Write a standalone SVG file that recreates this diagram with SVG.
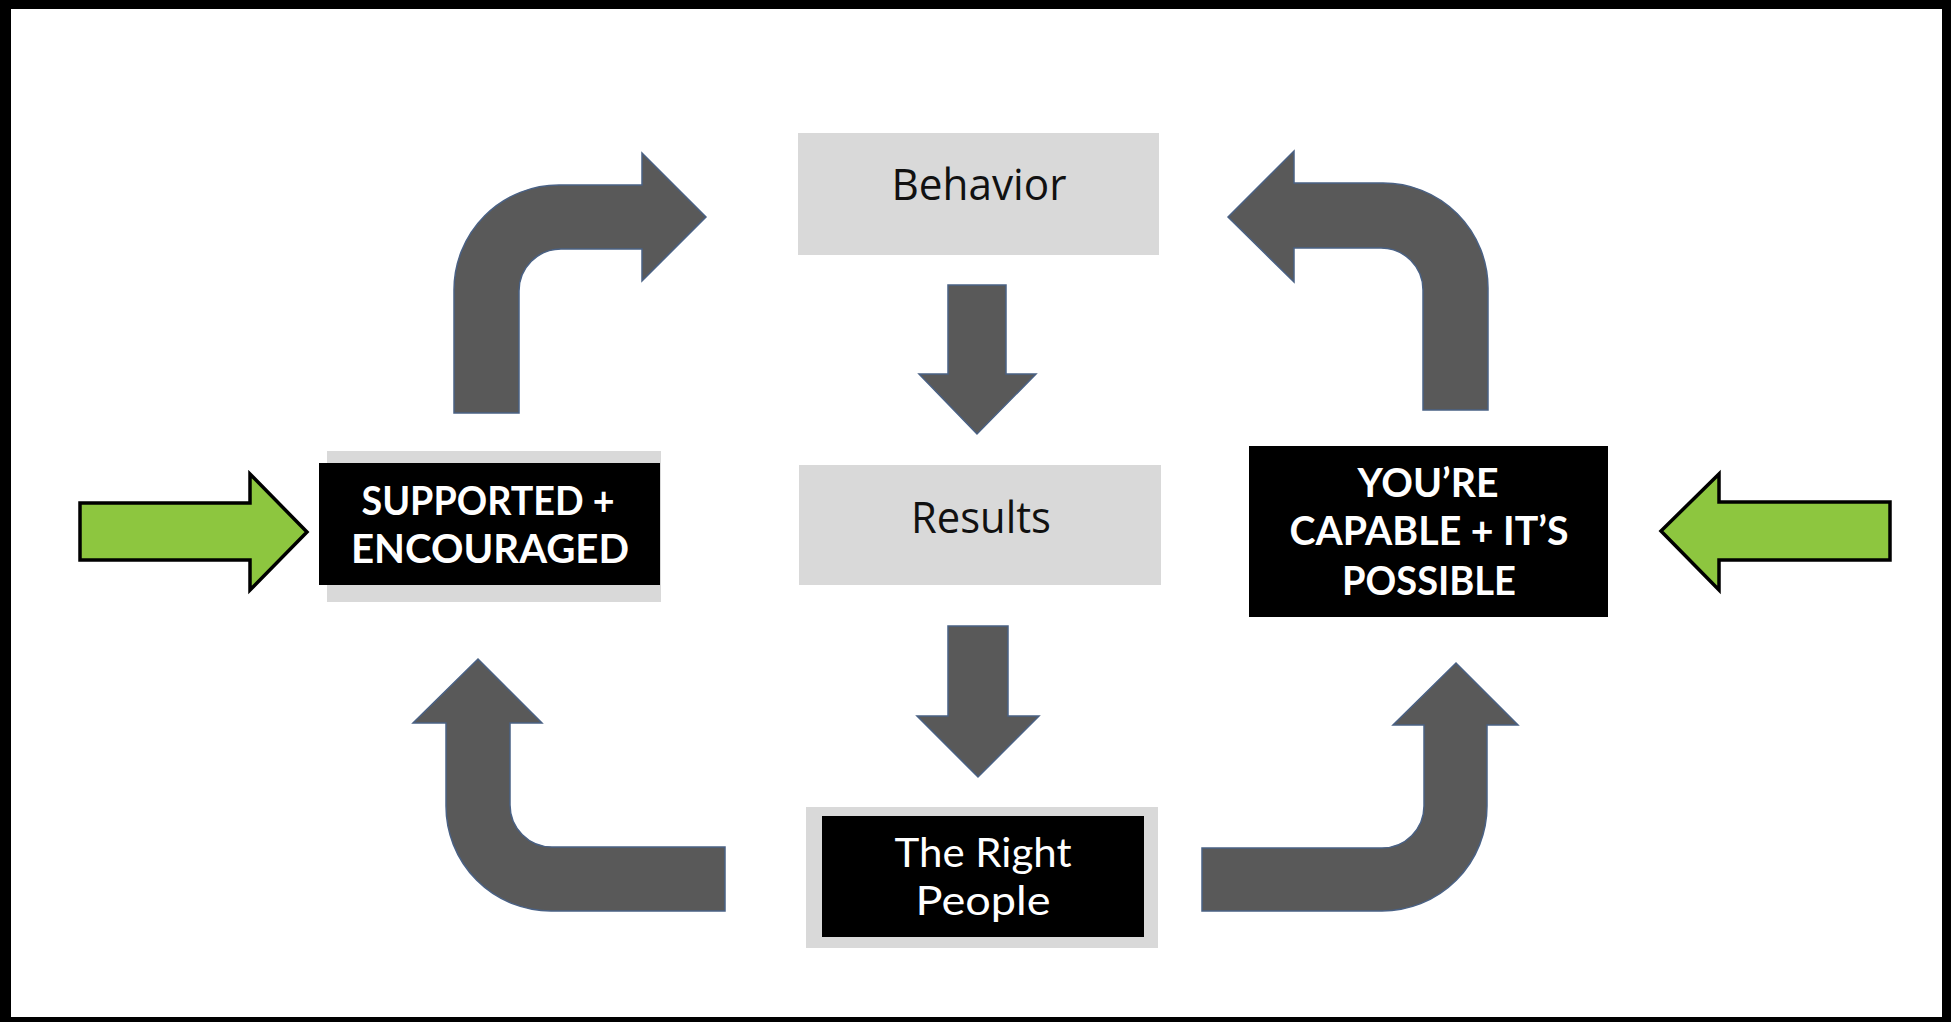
<svg xmlns="http://www.w3.org/2000/svg" width="1951" height="1022" viewBox="0 0 1951 1022">
<style>
.bend{fill:#595959;stroke:#4a6184;stroke-width:1.5;stroke-linejoin:miter}
.green{fill:#8dc63f;stroke:#000;stroke-width:3.5;stroke-linejoin:miter}
.lbox{fill:#d9d9d9}
.blk{fill:#000}
.cal{font-family:"Open Sans","Noto Sans","Liberation Sans",sans-serif;font-size:44px;fill:#111;text-anchor:middle}
.gb{font-family:"Lato","Noto Sans","Liberation Sans",sans-serif;font-weight:bold;font-size:40px;fill:#fff;text-anchor:middle}
.gl{font-family:"Lato","Noto Sans","Liberation Sans",sans-serif;font-weight:normal;font-size:40px;fill:#fff;text-anchor:middle}
</style>
<rect x="0" y="0" width="1951" height="1022" fill="#fff"/>
<g id="frame" fill="#000">
<rect x="0" y="0" width="1951" height="9"/>
<rect x="0" y="0" width="11" height="1022"/>
<rect x="1942" y="0" width="9" height="1022"/>
<rect x="0" y="1017" width="1951" height="5"/>
</g>
<g id="connectors">
<path class="bend" d="M454,413 L454,290 A105,105 0 0 1 559,185 L642,185 L642,153 L706,217 L642,281 L642,249 L561,249 A42,42 0 0 0 519,291 L519,413 Z"/>
<path class="bend" d="M1228,217 L1294,151 L1294,183 L1383,183 A105,105 0 0 1 1488,288 L1488,410 L1423,410 L1423,290 A42,42 0 0 0 1381,248 L1294,248 L1294,282 Z"/>
<path class="bend" d="M478,659 L542,723 L510,723 L510,805 A42,42 0 0 0 552,847 L725,847 L725,911 L551,911 A105,105 0 0 1 446,806 L446,723 L413,723 Z"/>
<path class="bend" d="M1202,848 L1382,848 A42,42 0 0 0 1424,806 L1424,725 L1393,725 L1456,663 L1518,725 L1487,725 L1487,806 A105,105 0 0 1 1382,911 L1202,911 Z"/>
<path class="bend" d="M948,285 L1006,285 L1006,374 L1036,374 L977,434 L919,374 L948,374 Z"/>
<path class="bend" d="M948,626 L1008,626 L1008,716 L1039,716 L978,777 L917,716 L948,716 Z"/>
<path class="green" d="M80,503 L250,503 L250,474 L307,532 L250,590 L250,560 L80,560 Z"/>
<path class="green" d="M1890,502 L1719,502 L1719,474 L1661,531 L1719,590 L1719,560 L1890,560 Z"/>
</g>
<g id="behavior">
<rect class="lbox" x="798" y="133" width="361" height="122"/>
<text class="cal" x="979" y="200" textLength="175" lengthAdjust="spacingAndGlyphs">Behavior</text>
</g>
<g id="results">
<rect class="lbox" x="799" y="465" width="362" height="120"/>
<text class="cal" x="981" y="533" textLength="140" lengthAdjust="spacingAndGlyphs">Results</text>
</g>
<g id="right-people">
<rect class="lbox" x="806" y="807" width="352" height="141"/>
<rect class="blk" x="822" y="816" width="322" height="121"/>
<text class="gl" x="983" y="867" textLength="177" lengthAdjust="spacingAndGlyphs">The Right</text>
<text class="gl" x="983" y="915" textLength="135" lengthAdjust="spacingAndGlyphs">People</text>
</g>
<g id="supported">
<rect class="lbox" x="327" y="451" width="334" height="151"/>
<rect class="blk" x="319" y="463" width="341" height="122"/>
<text class="gb" x="488" y="515" textLength="253" lengthAdjust="spacingAndGlyphs">SUPPORTED +</text>
<text class="gb" x="490" y="563" textLength="278" lengthAdjust="spacingAndGlyphs">ENCOURAGED</text>
</g>
<g id="capable">
<rect class="blk" x="1249" y="446" width="359" height="171"/>
<text class="gb" x="1428" y="497" textLength="141" lengthAdjust="spacingAndGlyphs">YOU’RE</text>
<text class="gb" x="1429" y="545" textLength="279" lengthAdjust="spacingAndGlyphs">CAPABLE + IT’S</text>
<text class="gb" x="1429" y="595" textLength="174" lengthAdjust="spacingAndGlyphs">POSSIBLE</text>
</g>
</svg>
